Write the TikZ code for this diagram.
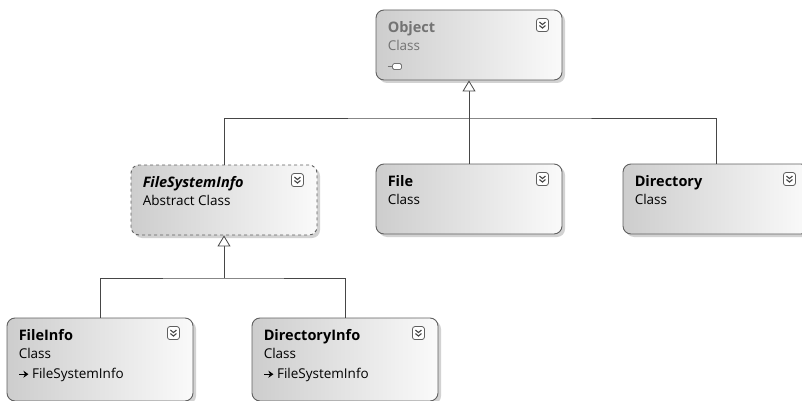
\documentclass[tikz,border=0pt]{standalone}
\usepackage{fontspec}
\setmainfont{Open Sans}
\usepackage{tikz}
\usetikzlibrary{calc,arrows.meta,positioning,shadows}
\definecolor{umlEdge}{RGB}{95,95,95}
\definecolor{umlLine}{RGB}{70,70,70}
\definecolor{umlGrayText}{RGB}{115,115,115}
\definecolor{umlDark}{RGB}{205,205,205}
\definecolor{umlLight}{RGB}{250,250,250}
\tikzset{
  classbox/.style={draw=umlEdge, line width=0.9pt, rounded corners=8pt,
    left color=umlDark, right color=umlLight, minimum width=186pt,
    minimum height=70pt, inner sep=0pt,
    drop shadow={shadow xshift=3pt, shadow yshift=-3pt, fill=gray!70, opacity=0.5}},
  tallbox/.style={classbox, minimum height=83pt},
  inherit/.style={draw=umlLine, line width=0.8pt,
    -{Triangle[open, width=13pt, length=11pt, fill=white]}},
  link/.style={draw=umlLine, line width=0.8pt},
  title/.style={anchor=base west, inner sep=0pt, font=\fontsize{14.5}{17}\selectfont\bfseries},
  kind/.style={anchor=base west, inner sep=0pt, font=\fontsize{13.5}{16}\selectfont},
  chevrons/.pic={
    \draw[umlEdge, line width=0.8pt, fill=white, rounded corners=2.5pt] (0,0) rectangle (12,13);
    \draw[umlLine, line width=1.1pt] (3,3.5) -- (6,6) -- (9,3.5) (3,7) -- (6,9.5) -- (9,7);
  }
}
\newcommand{\baseof}{\tikz[baseline=-0.6ex]\draw[line width=1.3pt, -{Stealth[length=5pt, width=7pt]}] (0,0) -- (9pt,0);\hspace{3pt}}

\begin{document}
\begin{tikzpicture}[x=1pt, y=-1pt]
\useasboundingbox (0,0) rectangle (802,401);
\clip (0,0) rectangle (802,401);
% class boxes
\node[classbox] (obj) at (469,45) {};
\node[classbox, dashed] (fsi) at (224,200) {};
\node[classbox] (file) at (469,199) {};
\node[classbox] (dir) at (716,199) {};
\node[tallbox] (finfo) at (100,359.5) {};
\node[tallbox] (dinfo) at (345,359.5) {};
% texts
\node[title, text=umlGrayText] (objname) at ($(obj.north west)+(12,22.5)$) {Object};
\node[kind, text=umlGrayText] (objkind) at ($(obj.north west)+(12,41)$) {Class};
\node[title] (fsiname) at ($(fsi.north west)+(12,22.5)$) {\itshape FileSystemInfo};
\node[kind] (fsikind) at ($(fsi.north west)+(12,41)$) {Abstract Class};
\node[title] (filename) at ($(file.north west)+(12,22.5)$) {File};
\node[kind] (filekind) at ($(file.north west)+(12,41)$) {Class};
\node[title] (dirname) at ($(dir.north west)+(12,22.5)$) {Directory};
\node[kind] (dirkind) at ($(dir.north west)+(12,41)$) {Class};
\node[title] (finfoname) at ($(finfo.north west)+(12,22.5)$) {FileInfo};
\node[kind] (finfokind) at ($(finfo.north west)+(12,41)$) {Class};
\node[kind] (finfobase) at ($(finfo.north west)+(12,61)$) {\baseof FileSystemInfo};
\node[title] (dinfoname) at ($(dinfo.north west)+(12,22.5)$) {DirectoryInfo};
\node[kind] (dinfokind) at ($(dinfo.north west)+(12,41)$) {Class};
\node[kind] (dinfobase) at ($(dinfo.north west)+(12,61)$) {\baseof FileSystemInfo};
% expand buttons
\foreach \b in {obj,fsi,file,dir,finfo,dinfo}
  \pic at ($(\b.north east)+(-26,9)$) {chevrons};
% collapsed member icon
\draw[umlGrayText, line width=0.8pt] ($(obj.north west)+(12,57)$) -- ++(5,0);
\draw[umlGrayText, line width=0.8pt, fill=white, rounded corners=1.5pt]
  ($(obj.north west)+(17,54)$) rectangle ++(9,6);
% inheritance
\coordinate (trunk) at (469,118);
\coordinate (branch) at (224,278);
\draw[inherit] (file.north) -- (obj.south);
\draw[link] (fsi.north) |- (trunk) -| (dir.north);
\draw[inherit] (branch) -- (fsi.south);
\draw[link] (finfo.north) |- (branch) -| (dinfo.north);
\end{tikzpicture}
\end{document}
